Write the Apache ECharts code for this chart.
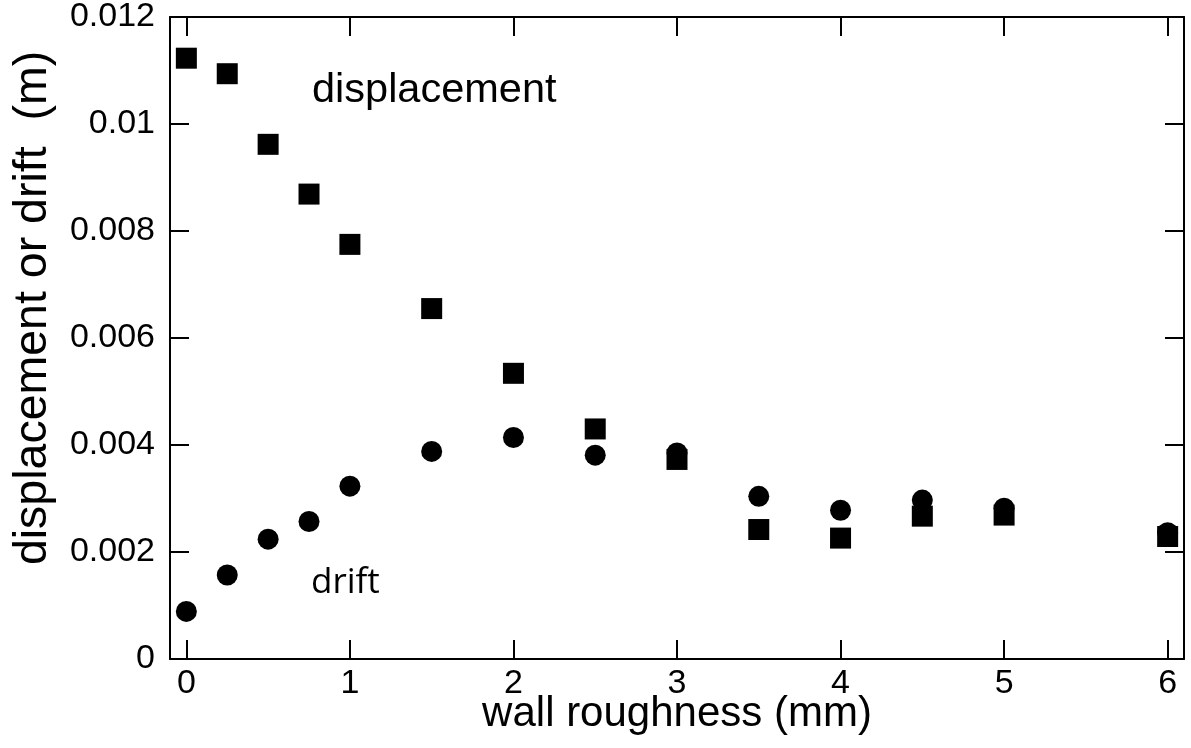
<!DOCTYPE html>
<html>
<head>
<meta charset="utf-8">
<script src="https://cdn.jsdelivr.net/npm/echarts@6/dist/echarts.min.js"></script>
<style>
html,body{margin:0;padding:0;background:#fff;}
#chart{width:1191px;height:748px;}
</style>
</head>
<body>
<div id="chart"></div>
<script>
const roughness = [0, 0.25, 0.5, 0.75, 1.0, 1.5, 2.0, 2.5, 3.0, 3.5, 4.0, 4.5, 5.0, 6.0];
const displacement = [0.01123, 0.01094, 0.00962, 0.00869, 0.00775, 0.00655, 0.00534, 0.00430, 0.00373, 0.00242, 0.00226, 0.00267, 0.00269, 0.00229];
const drift = [0.00089, 0.00157, 0.00224, 0.00257, 0.00323, 0.00388, 0.00414, 0.00381, 0.00385, 0.00304, 0.00278, 0.00297, 0.00282, 0.00236];
const xTicks = [0, 1, 2, 3, 4, 5, 6];
const yTicks = [0, 0.002, 0.004, 0.006, 0.008, 0.01, 0.012];
const xTitle = 'wall roughness (mm)';
const yTitle = 'displacement or drift  (m)';
const labelDisp = 'displacement';
const labelDrift = 'drift';

const FONT = '"Liberation Sans", Arial, sans-serif';
const chart = echarts.init(document.getElementById('chart'), null, {renderer: 'canvas'});

const axLine = {show: true, onZero: false, lineStyle: {color: '#000', width: 2}};
const tick = {show: true, inside: true, length: 19, lineStyle: {color: '#000', width: 2}};

function xFmt(v) {
  const r = Math.round(v * 1000) / 1000;
  return xTicks.indexOf(r) >= 0 ? String(r) : '';
}
function yFmt(v) {
  const r = Math.round(v * 1e6) / 1e6;
  return yTicks.indexOf(r) >= 0 ? String(r) : '';
}

const option = {
  backgroundColor: '#fff',
  animation: false,
  grid: {left: 170, right: 7, top: 12, bottom: 89, containLabel: false},
  xAxis: [
    {type: 'value', position: 'bottom', min: -0.1, max: 6.1, splitNumber: 6,
     axisLine: axLine, axisTick: tick, splitLine: {show: false},
     axisLabel: {color: '#000', fontSize: 34, fontFamily: FONT, margin: 8, formatter: xFmt}},
    {type: 'value', position: 'top', min: -0.1, max: 6.1, splitNumber: 6,
     axisLine: axLine, axisTick: tick, splitLine: {show: false},
     axisLabel: {show: false}}
  ],
  yAxis: [
    {type: 'value', position: 'left', min: 0, max: 0.012, interval: 0.002,
     axisLine: axLine, axisTick: tick, splitLine: {show: false},
     axisLabel: {color: '#000', fontSize: 34, fontFamily: FONT, margin: 15, formatter: yFmt}},
    {type: 'value', position: 'right', min: 0, max: 0.012, interval: 0.002,
     axisLine: axLine, axisTick: tick, splitLine: {show: false},
     axisLabel: {show: false}}
  ],
  series: [
    {name: 'displacement', type: 'scatter', symbol: 'rect', symbolSize: 21,
     itemStyle: {color: '#000', opacity: 1},
     data: roughness.map((x, i) => [x, displacement[i]])},
    {name: 'drift', type: 'scatter', symbol: 'circle', symbolSize: 21,
     itemStyle: {color: '#000', opacity: 1},
     data: roughness.map((x, i) => [x, drift[i]])}
  ],
  graphic: [
    {type: 'text', left: 312, top: 70,
     style: {text: labelDisp, fill: '#000', font: '41.5px ' + FONT}},
    {type: 'text', left: 311, top: 566,
     style: {text: labelDrift, fill: '#000', font: '35px "Open Sans", sans-serif'}},
    {type: 'text', x: 677, y: 714,
     style: {text: xTitle, fill: '#000', font: '42px ' + FONT, align: 'center', verticalAlign: 'middle'}},
    {type: 'text', x: 33, y: 308, rotation: Math.PI / 2,
     style: {text: yTitle, fill: '#000', font: '46.5px ' + FONT, align: 'center', verticalAlign: 'middle'}}
  ]
};
chart.setOption(option);
</script>
</body>
</html>
